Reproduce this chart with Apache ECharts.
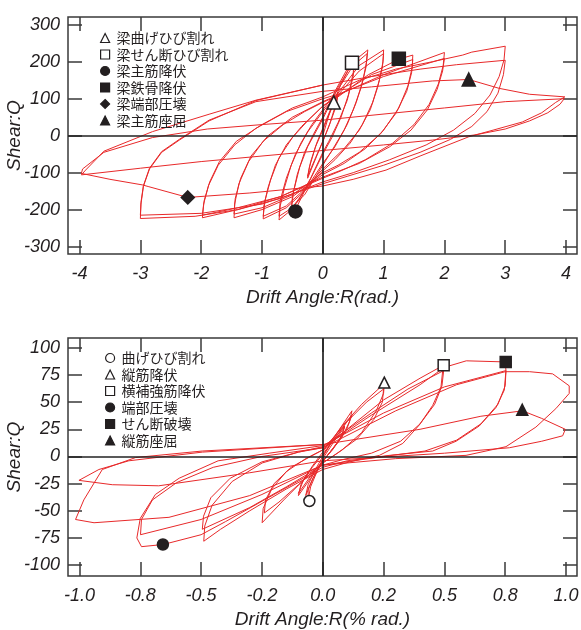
<!DOCTYPE html>
<html>
<head>
<meta charset="utf-8">
<script src="https://cdn.jsdelivr.net/npm/echarts@6/dist/echarts.min.js"></script>
<style>
  html, body { margin: 0; padding: 0; background: #fff; }
  #main { width: 581px; height: 630px; }
</style>
</head>
<body>
<div id="main"></div>
<script>
// ---- upper panel: beam, drift angle (rad.) vs shear ----
var topTicksX = [-4, -3, -2, -1, 0, 1, 2, 3, 4]
var topTicksY = [-300, -200, -100, 0, 100, 200, 300]

var topCycle1 = [[0, 0], [0.1, 55], [0.18, 90], [0.25, 118], [0.22, 88], [0.12, 35], [0.02, -8], [-0.1, -55], [-0.25, -115], [-0.22, -85], [-0.12, -30], [0, 15], [0.12, 65], [0.25, 112], [0.22, 80], [0.1, 25], [0, -15], [-0.12, -60], [-0.25, -110], [-0.2, -70], [-0.1, -20], [0, 20]]
var topCycle2 = [[0.15, 80], [0.3, 140], [0.48, 197], [0.52, 208], [0.5, 170], [0.42, 110], [0.3, 50], [0.15, -5], [0, -50], [-0.15, -100], [-0.3, -150], [-0.45, -200], [-0.52, -210], [-0.5, -165], [-0.42, -105], [-0.3, -45], [-0.15, 5], [0, 50], [0.2, 120], [0.4, 180], [0.52, 200], [0.5, 160], [0.4, 95], [0.25, 35], [0.1, -15], [0, -45], [-0.2, -115], [-0.4, -175], [-0.52, -200], [-0.48, -150], [-0.38, -85], [-0.25, -30], [-0.1, 15], [0, 45]]
var topCycle3 = [[0.25, 130], [0.5, 200], [0.74, 232], [0.72, 200], [0.66, 150], [0.55, 90], [0.4, 30], [0.2, -30], [0, -75], [-0.3, -150], [-0.55, -205], [-0.72, -228], [-0.7, -190], [-0.63, -140], [-0.52, -80], [-0.36, -20], [-0.18, 30], [0, 70], [0.25, 125], [0.5, 190], [0.73, 222], [0.71, 185], [0.63, 130], [0.5, 70], [0.35, 15], [0.15, -40], [0, -80], [-0.3, -160], [-0.55, -200], [-0.72, -218], [-0.7, -175], [-0.6, -115], [-0.45, -50], [-0.25, 10], [0, 65]]
var topCycle4 = [[0.25, 115], [0.6, 190], [1.0, 232], [0.99, 200], [0.93, 150], [0.82, 90], [0.65, 30], [0.45, -20], [0.2, -65], [0, -95], [-0.3, -150], [-0.6, -195], [-0.98, -225], [-0.97, -190], [-0.9, -140], [-0.78, -80], [-0.6, -25], [-0.35, 25], [0, 80], [0.25, 110], [0.6, 175], [1.0, 222], [0.98, 185], [0.9, 130], [0.78, 70], [0.6, 15], [0.35, -35], [0, -90], [-0.3, -145], [-0.6, -190], [-0.98, -218], [-0.95, -175], [-0.86, -120], [-0.72, -60], [-0.5, -5], [-0.25, 40], [0, 80]]
var topCycle5 = [[0.25, 105], [0.75, 165], [1.25, 207], [1.48, 218], [1.47, 185], [1.4, 135], [1.25, 75], [1.0, 15], [0.7, -35], [0.35, -75], [0, -105], [-0.5, -165], [-1.0, -200], [-1.46, -222], [-1.45, -185], [-1.38, -130], [-1.22, -70], [-0.98, -15], [-0.65, 30], [-0.3, 65], [0, 90], [0.25, 108], [0.8, 165], [1.48, 206], [1.46, 170], [1.38, 120], [1.2, 60], [0.95, 5], [0.6, -45], [0.25, -80], [0, -100], [-0.5, -160], [-1.0, -195], [-1.46, -212], [-1.44, -170], [-1.35, -115], [-1.18, -55], [-0.9, 0], [-0.5, 50], [0, 92]]
var topCycle6 = [[0.25, 110], [1.0, 165], [2.0, 225], [1.98, 190], [1.9, 140], [1.75, 85], [1.5, 30], [1.15, -20], [0.7, -65], [0.3, -95], [0, -115], [-0.7, -165], [-1.4, -200], [-1.98, -222], [-1.96, -185], [-1.88, -135], [-1.72, -80], [-1.45, -25], [-1.1, 20], [-0.6, 65], [0, 100], [0.25, 112], [1.0, 160], [2.0, 209], [1.97, 175], [1.88, 125], [1.72, 70], [1.45, 15], [1.1, -30], [0.6, -75], [0, -112], [-0.7, -165], [-1.4, -195], [-1.98, -215], [-1.95, -175], [-1.86, -125], [-1.7, -70], [-1.42, -15], [-1.0, 30], [-0.5, 75], [0, 105]]
var topCycle7 = [[0.6, 150], [1.2, 180], [1.8, 200], [2.3, 218], [2.45, 226], [3.0, 242], [2.98, 205], [2.9, 160], [2.75, 110], [2.5, 60], [2.15, 15], [1.7, -25], [1.1, -65], [0.5, -100], [0, -125], [-0.7, -170], [-1.4, -200], [-2.1, -218], [-3.0, -224], [-2.99, -185], [-2.95, -137], [-2.85, -90], [-2.65, -45], [-2.36, -12], [-1.87, 40], [-1.1, 95], [0, 137], [0.8, 160], [1.6, 180], [2.2, 192], [3.0, 204], [2.97, 165], [2.88, 115], [2.7, 65], [2.45, 25], [2.1, -10], [1.6, -45], [1.0, -80], [0.4, -110], [0, -130], [-1.0, -185], [-2.0, -210], [-3.0, -215], [-2.99, -180], [-2.95, -135], [-2.85, -88], [-2.65, -43], [-2.36, -10], [-1.87, 42], [-1.1, 92], [0, 120]]
var topCycle8 = [[0.8, 132], [1.8, 148], [2.4, 152], [2.9, 128], [3.4, 112], [3.98, 105], [3.83, 90], [3.6, 62], [3.28, 37], [2.8, 15], [2.4, -3], [1.6, -55], [1.04, -93], [0.5, -118], [0, -136], [-1.2, -155], [-2.22, -167], [-2.86, -138], [-2.97, -133], [-3.5, -118], [-3.97, -102], [-3.95, -90], [-3.6, -45], [-2.8, -5], [-1.9, 18], [-1.0, 30], [0, 42], [2.0, 75], [3.0, 92], [3.97, 100], [3.9, 85], [3.7, 62], [3.4, 40], [3.0, 18], [2.5, 2], [1.8, -12], [1.0, -25], [0, -40], [-1.0, -55], [-2.0, -70], [-3.0, -88], [-3.97, -106], [-3.9, -93], [-3.6, -42], [-2.8, 11], [-1.87, 58], [-1.1, 96], [0, 137]]

var topEventNames = ['梁曲げひび割れ', '梁せん断ひび割れ', '梁主筋降伏', '梁鉄骨降伏', '梁端部圧壊', '梁主筋座屈']
var topEventPoints = [[0.18, 90], [0.48, 197], [-0.45, -205], [1.25, 208], [-2.22, -167], [2.4, 152]]

// ---- lower panel: column, drift angle (% rad.) vs shear ----
var botTicksX = [-1, -0.75, -0.5, -0.25, 0, 0.25, 0.5, 0.75, 1]
var botLabelsX = ['-1.0', '-0.8', '-0.5', '-0.2', '0.0', '0.2', '0.5', '0.8', '1.0']
var botTicksY = [-100, -75, -50, -25, 0, 25, 50, 75, 100]

var botCycle1 = [[0, 0], [0.04, 14], [0.09, 28], [0.08, 20], [0.04, 6], [0, -4], [-0.03, -15], [-0.06, -30], [-0.06, -40], [-0.05, -28], [-0.02, -12], [0, -2], [0.05, 15], [0.09, 27], [0.07, 16], [0.03, 4], [0, -5], [-0.04, -20], [-0.07, -36], [-0.06, -26], [-0.03, -12], [0, 0]]
var botCycle2 = [[0.06, 22], [0.12, 42], [0.11, 32], [0.08, 18], [0.03, 4], [0, -5], [-0.05, -20], [-0.1, -36], [-0.09, -26], [-0.05, -12], [0, 2], [0.06, 20], [0.12, 38], [0.1, 26], [0.06, 12], [0, -4], [-0.05, -18], [-0.1, -34], [-0.08, -22], [-0.04, -8], [0, 4]]
var botCycle3 = [[0.08, 28], [0.16, 48], [0.253, 67], [0.25, 58], [0.22, 42], [0.16, 22], [0.08, 6], [0, -6], [-0.08, -22], [-0.16, -40], [-0.249, -61], [-0.245, -48], [-0.21, -30], [-0.15, -14], [-0.07, -2], [0, 6], [0.1, 32], [0.18, 50], [0.25, 62], [0.245, 50], [0.21, 34], [0.14, 16], [0.06, 3], [0, -6], [-0.1, -26], [-0.18, -42], [-0.24, -52], [-0.235, -40], [-0.2, -25], [-0.13, -10], [-0.05, 0], [0, 6]]
var botCycle4 = [[0.1, 25], [0.25, 52], [0.4, 72], [0.497, 84], [0.493, 79], [0.486, 64], [0.452, 47], [0.397, 29], [0.329, 12], [0.233, 1], [0.11, -5], [0, -12], [-0.15, -30], [-0.3, -50], [-0.42, -67], [-0.489, -78], [-0.485, -64], [-0.455, -45], [-0.372, -23], [-0.249, -6], [-0.1, 4], [0, 9], [0.2, 40], [0.35, 62], [0.497, 79], [0.49, 65], [0.46, 48], [0.4, 30], [0.32, 14], [0.2, 3], [0.08, -3], [0, -8], [-0.15, -28], [-0.3, -47], [-0.495, -67], [-0.49, -55], [-0.46, -38], [-0.38, -20], [-0.25, -5], [-0.1, 4], [0, 8]]
var botCycle5 = [[0.2, 38], [0.4, 66], [0.5, 82], [0.59, 88], [0.75, 87], [0.753, 79], [0.746, 61], [0.712, 45], [0.643, 28], [0.548, 14], [0.452, 5], [0.274, 1], [0.1, -4], [0, -10], [-0.2, -35], [-0.4, -60], [-0.5, -72], [-0.655, -81], [-0.745, -83], [-0.764, -75], [-0.75, -57], [-0.688, -35], [-0.59, -20], [-0.43, -4], [-0.22, 3], [0, 10], [0.25, 40], [0.5, 64], [0.753, 79], [0.75, 65], [0.72, 48], [0.65, 30], [0.55, 15], [0.42, 5], [0.25, 0], [0, -8], [-0.25, -35], [-0.5, -58], [-0.749, -72], [-0.745, -58], [-0.7, -40], [-0.6, -24], [-0.45, -10], [-0.25, 0], [0, 8]]
var botCycle6 = [[0.3, 42], [0.55, 66], [0.75, 78], [0.85, 78], [0.945, 76], [1.013, 65], [1.013, 58], [0.958, 44], [0.876, 27], [0.753, 9], [0.589, 1], [0.3, -2], [0, -8], [-0.3, -36], [-0.632, -56], [-0.94, -61], [-1.016, -58], [-0.982, -40], [-0.906, -12], [-0.769, -1], [-0.495, 5], [0, 11], [0.4, 25], [0.65, 37], [0.821, 42], [0.9, 35], [0.997, 25], [0.986, 19], [0.9, 14], [0.767, 8], [0.5, 3], [0, -4], [-0.3, -15], [-0.674, -27], [-0.865, -26], [-1.002, -22], [-0.92, -12], [-0.797, -4], [-0.495, 4], [0, 11]]

var botEventNames = ['曲げひび割れ', '縦筋降伏', '横補強筋降伏', '端部圧壊', 'せん断破壊', '縦筋座屈']
var botEventPoints = [[-0.055, -41], [0.253, 68], [0.497, 84], [-0.657, -81], [0.752, 87], [0.82, 43]]

var ink = '#231f20'
var red = '#e8292a'
var axisText = { color: ink, fontFamily: 'Liberation Sans, Arial, sans-serif', fontStyle: 'italic', fontSize: 18 }
var tickStyle = { color: '#3a3a3a', width: 1.5 }

function xAxes (gi, min, max, ticks, fmt, name) {
  return [{
    type: 'value', gridIndex: gi, position: 'bottom', min: min, max: max,
    axisLine: { show: false, onZero: false }, splitLine: { show: false },
    axisTick: { inside: true, length: 14, lineStyle: tickStyle, customValues: ticks },
    axisLabel: Object.assign({ customValues: ticks, formatter: fmt, margin: 11 }, axisText),
    name: name, nameLocation: 'middle', nameGap: 34, nameMoveOverlap: false,
    nameTextStyle: Object.assign({}, axisText, { fontSize: 19 })
  }, {
    type: 'value', gridIndex: gi, position: 'top', min: min, max: max,
    axisLine: { show: false, onZero: false }, splitLine: { show: false },
    axisTick: { inside: true, length: 14, lineStyle: tickStyle, customValues: ticks },
    axisLabel: { show: false }
  }]
}

function yAxes (gi, min, max, ticks) {
  return [{
    type: 'value', gridIndex: gi, position: 'left', min: min, max: max,
    axisLine: { show: false, onZero: false }, splitLine: { show: false },
    axisTick: { inside: true, length: 14, lineStyle: tickStyle, customValues: ticks },
    axisLabel: Object.assign({ customValues: ticks, margin: 8 }, axisText),
    name: 'Shear:Q', nameLocation: 'middle', nameGap: 44, nameRotate: 90, nameMoveOverlap: false,
    nameTextStyle: Object.assign({}, axisText, { fontSize: 19 })
  }, {
    type: 'value', gridIndex: gi, position: 'right', min: min, max: max,
    axisLine: { show: false, onZero: false }, splitLine: { show: false },
    axisTick: { inside: true, length: 14, lineStyle: tickStyle, customValues: ticks },
    axisLabel: { show: false }
  }]
}

var markerLook = [
  { symbol: 'triangle', open: true },
  { symbol: 'rect', open: true },
  { symbol: 'circle', open: false },
  { symbol: 'rect', open: false },
  { symbol: 'diamond', open: false },
  { symbol: 'triangle', open: false }
]
var botMarkerLook = [
  { symbol: 'circle', open: true },
  { symbol: 'triangle', open: true },
  { symbol: 'rect', open: true },
  { symbol: 'circle', open: false },
  { symbol: 'rect', open: false },
  { symbol: 'triangle', open: false }
]

function loopSeries (gi, data) {
  return {
    type: 'line', xAxisIndex: gi * 2, yAxisIndex: gi * 2, data: data,
    symbol: 'none', lineStyle: { color: red, width: 1 }, z: 2,
    markLine: {
      silent: true, symbol: 'none', label: { show: false },
      lineStyle: { color: '#222', width: 1.7, type: 'solid' },
      data: [{ xAxis: 0 }, { yAxis: 0 }]
    }
  }
}

function eventSeries (gi, names, points, looks, size) {
  return names.map(function (n, i) {
    var look = looks[i]
    return {
      type: 'scatter', name: n, xAxisIndex: gi * 2, yAxisIndex: gi * 2,
      data: [points[i]], symbol: look.symbol, symbolSize: size, z: 5,
      itemStyle: { color: look.open ? '#fff' : ink, borderColor: ink, borderWidth: 1.5, opacity: 1 }
    }
  })
}

var topLoop = [].concat(topCycle1, topCycle2, topCycle3, topCycle4, topCycle5, topCycle6, topCycle7, topCycle8)
var botLoop = [].concat(botCycle1, botCycle2, botCycle3, botCycle4, botCycle5, botCycle6)

var legendText = { color: ink, fontFamily: 'Noto Sans CJK JP', fontSize: 14, lineHeight: 14, padding: [0, 0, 0, 2] }

var option = {
  animation: false,
  backgroundColor: '#fff',
  grid: [
    { left: 68, top: 17, width: 509, height: 237, show: true, borderColor: '#3a3a3a', borderWidth: 1.5, containLabel: false, outerBoundsMode: 'none' },
    { left: 68, top: 338, width: 509, height: 238, show: true, borderColor: '#3a3a3a', borderWidth: 1.5, containLabel: false, outerBoundsMode: 'none' }
  ],
  xAxis: [].concat(
    xAxes(0, -4.19, 4.18, topTicksX, null, 'Drift Angle:R(rad.)'),
    xAxes(1, -1.047, 1.045, botTicksX, function (v) { return botLabelsX[botTicksX.indexOf(v)] }, 'Drift Angle:R(% rad.)')
  ),
  yAxis: [].concat(
    yAxes(0, -320, 321, topTicksY),
    yAxes(1, -110, 109, botTicksY)
  ),
  legend: [
    { data: topEventNames, orient: 'vertical', left: 95, top: 26, itemWidth: 9, itemHeight: 9, itemGap: 2.5, textStyle: legendText, itemStyle: { borderWidth: 1.2 } },
    { data: botEventNames, orient: 'vertical', left: 100, top: 346, itemWidth: 9, itemHeight: 9, itemGap: 2.5, textStyle: legendText, itemStyle: { borderWidth: 1.2 } }
  ],
  series: [].concat(
    [loopSeries(0, topLoop), loopSeries(1, botLoop)],
    eventSeries(0, topEventNames, topEventPoints, markerLook, 13),
    eventSeries(1, botEventNames, botEventPoints, botMarkerLook, 11)
  )
}

var chart = echarts.init(document.getElementById('main'))
chart.setOption(option)
</script>
</body>
</html>
